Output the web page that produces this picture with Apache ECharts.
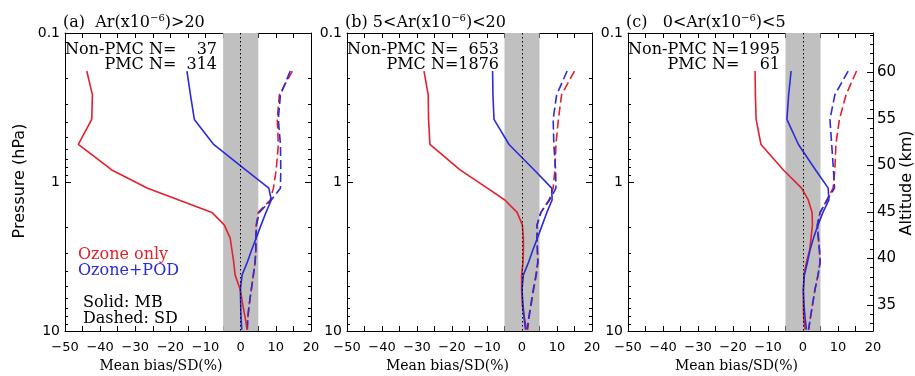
<!DOCTYPE html>
<html><head><meta charset="utf-8">
<script src="https://cdn.jsdelivr.net/npm/echarts@6/dist/echarts.min.js"></script>
<style>html,body{margin:0;padding:0;background:#fff}#c{width:915px;height:376px}</style>
</head><body><div id="c"></div>
<script>
// Pressure levels (hPa) shared by all profiles
const pressure = [0.18,0.26,0.38,0.56,0.83,1.1,1.32,1.6,1.94,2.38,2.86,3.44,4.2,5.3,6.7,8.2,9.8];

// Panel (a) Ar > 20
const mbOzoneA    = [-43.8,-42.2,-42.4,-46.2,-36.7,-26.5,-17.6,-8.2,-4.7,-3.0,-2.5,-2.0,-1.6,-0.1,0.6,1.3,1.8];
const mbOzonePodA = [-15.3,-14.3,-13.2,-7.7,1.4,8.0,8.7,7.2,5.8,4.4,3.1,1.9,0.4,-0.1,0.0,0.1,0.3];
const sdOzoneA    = [14.7,11.0,10.4,10.7,10.1,9.3,8.4,5.0,4.4,4.3,4.3,4.1,3.6,3.0,2.4,2.0,1.8];
const sdOzonePodA = [14.1,11.3,10.7,11.3,11.4,11.3,8.7,5.3,4.5,4.3,4.3,4.1,3.6,3.0,2.4,2.0,1.9];
// Panel (b) 5 < Ar < 20
const mbOzoneB    = [-28.0,-26.8,-26.7,-26.3,-17.7,-9.9,-4.9,-1.4,0.1,0.4,0.4,0.3,-0.1,-0.1,0.1,0.7,1.3];
const mbOzonePodB = [-8.4,-8.3,-8.0,-3.7,3.5,8.5,8.6,7.1,5.8,4.4,3.1,1.9,0.4,0.0,0.3,0.6,1.0];
const sdOzoneB    = [15.0,11.3,10.4,9.7,9.4,8.9,7.7,5.4,4.3,4.3,4.4,4.6,4.1,3.3,2.6,2.0,1.6];
const sdOzonePodB = [12.9,9.9,8.9,9.1,9.6,9.7,7.9,5.4,4.3,4.3,4.4,4.5,4.0,3.2,2.5,1.9,1.5];
// Panel (c) 0 < Ar < 5
const mbOzoneC    = [-13.7,-13.6,-13.4,-12.0,-5.6,-0.4,1.5,2.6,2.7,2.3,1.9,1.0,0.3,0.1,0.1,0.2,0.6];
const mbOzonePodC = [-3.4,-4.1,-4.6,-1.3,3.6,7.2,7.4,5.7,4.3,3.0,2.0,1.3,0.4,0.1,0.3,0.6,1.0];
const sdOzoneC    = [15.3,12.3,10.4,9.4,9.1,8.6,6.8,4.9,4.1,4.4,4.7,4.9,4.3,3.4,2.7,2.1,1.6];
const sdOzonePodC = [12.9,9.1,7.7,8.2,8.7,9.0,6.9,4.9,4.1,4.4,4.7,4.9,4.3,3.4,2.7,2.1,1.6];

const nonPmcCounts = ['37','653','1995'];
const pmcCounts    = ['314','1876','61'];
const panelLetters = ['(a)','(b)','(c)'];
const panelRanges  = [['', '>20'], ['5<', '<20'], ['0<', '<5']];

const pMajor = [0.1,1,10];
const pMinor = [0.2,0.3,0.4,0.5,0.6,0.7,0.8,0.9,2,3,4,5,6,7,8,9];
const altMajor = [35,40,45,50,55,60];
const altMinor = [33,34,36,37,38,39,41,42,43,44,46,47,48,49,51,52,53,54,56,57,58,59,61,62,63,64];
const altRange = [32.2, 64.2];
const biasBand = [-5, 5];

const SANS = 'DejaVu Sans', SERIF = 'DejaVu Serif';
const RED = '#e3202b', BLUE = '#2b2bd8';
const FS = '\u2007';

const panels = [
  {left:65,  width:246, mbO:mbOzoneA, mbP:mbOzonePodA, sdO:sdOzoneA, sdP:sdOzonePodA, gap:'  ', xName:161},
  {left:347, width:245, mbO:mbOzoneB, mbP:mbOzonePodB, sdO:sdOzoneB, sdP:sdOzonePodB, gap:' ', xName:447.5},
  {left:628, width:245, mbO:mbOzoneC, mbP:mbOzonePodC, sdO:sdOzoneC, sdP:sdOzonePodC, gap:'   ', xName:736.5}
];

const grids=[], xAxes=[], yAxes=[], series=[], titles=[], graphics=[];
const blk = () => ({color:'#000', width:1});
const pad4 = s => FS.repeat(4 - s.length) + s;

panels.forEach((p,i)=>{
  grids.push({left:p.left, top:33, width:p.width, height:298});
  ['bottom','top'].forEach(pos=>{
    xAxes.push({gridIndex:i, type:'value', position:pos, min:-50, max:20, interval:5, splitLine:{show:false},
      axisLine:{show:true, onZero:false, lineStyle:blk()},
      axisTick:{show:true, inside:true, length:5, lineStyle:blk()},
      axisLabel: pos==='bottom' ? {show:true, formatter:v=>(v%10===0 ? String(v).replace('-','\u2212') : ''),
        fontFamily:SANS, fontSize:13, color:'#000', margin:10} : {show:false}});
  });

  const yMain = yAxes.length;
  const sides = i < 2 ? ['left','right'] : ['left'];
  sides.forEach(side=>{
    yAxes.push({gridIndex:i, type:'log', logBase:10, min:0.1, max:10, inverse:true, position:side, splitLine:{show:false},
      axisLine:{show:true, onZero:false, lineStyle:blk()},
      axisTick:{show:true, inside:true, length:6, customValues:pMajor, lineStyle:blk()},
      axisLabel: side==='left' ? {show:true, customValues:pMajor, formatter:v=>String(+(+v).toPrecision(3)),
        fontFamily:SANS, fontSize:14, color:'#000', margin:5} : {show:false}});
    yAxes.push({gridIndex:i, type:'log', logBase:10, min:0.1, max:10, inverse:true, position:side, splitLine:{show:false},
      axisLine:{show:false, onZero:false},
      axisTick:{show:true, inside:true, length:3, customValues:pMinor, lineStyle:blk()},
      axisLabel:{show:false}});
  });
  if (i === 2) {
    yAxes.push({gridIndex:i, type:'value', min:altRange[0], max:altRange[1], position:'right', splitLine:{show:false},
      axisLine:{show:true, onZero:false, lineStyle:blk()},
      axisTick:{show:true, inside:true, length:6, customValues:altMajor, lineStyle:blk()},
      axisLabel:{show:true, customValues:altMajor, fontFamily:SANS, fontSize:15, color:'#000', margin:4}});
    yAxes.push({gridIndex:i, type:'value', min:altRange[0], max:altRange[1], position:'right', splitLine:{show:false},
      axisLine:{show:false, onZero:false},
      axisTick:{show:true, inside:true, length:3, customValues:altMinor, lineStyle:blk()},
      axisLabel:{show:false}});
  }

  const mk = (vals, color, dashed, z) => ({type:'line', xAxisIndex:2*i, yAxisIndex:yMain,
    data: vals.map((v,k)=>[v, pressure[k]]), symbol:'none', silent:true, z:z,
    lineStyle:{color:color, width:1.6, type: dashed ? [9,4] : 'solid'}});
  const s0 = mk(p.sdO, RED, true, 1);
  s0.markArea = {silent:true, itemStyle:{color:'#c0c0c0'}, data:[[{xAxis:biasBand[0]},{xAxis:biasBand[1]}]]};
  const s1 = mk(p.sdP, BLUE, true, 2);
  s1.markLine = {silent:true, symbol:['none','none'], label:{show:false},
    lineStyle:{color:'#000', type:[1.5,2.5], width:1}, data:[{xAxis:0}], animation:false};
  series.push(s0, s1, mk(p.mbO, RED, false, 3), mk(p.mbP, BLUE, false, 3));

  titles.push({left:p.left - 2, top:13, padding:0,
    text:'{t|' + panelLetters[i] + p.gap + panelRanges[i][0] + 'Ar(x10}{s|\u22126}{t|)' + panelRanges[i][1] + '}',
    textStyle:{fontWeight:'normal', rich:{t:{fontFamily:SERIF, fontSize:16, fontWeight:'normal', color:'#000', lineHeight:20},
                     s:{fontFamily:SERIF, fontSize:10, fontWeight:'normal', color:'#000', verticalAlign:'top', lineHeight:10}}}});

  graphics.push({type:'text', x:p.left+152, y:50, silent:true,
    style:{text:'Non-PMC N=' + pad4(nonPmcCounts[i]), font:'16px "DejaVu Serif"', fill:'#000',
      textAlign:'right', textVerticalAlign:'middle'}});
  graphics.push({type:'text', x:p.left+152, y:64.5, silent:true,
    style:{text:'PMC N=' + pad4(pmcCounts[i]), font:'16px "DejaVu Serif"', fill:'#000',
      textAlign:'right', textVerticalAlign:'middle'}});
  graphics.push({type:'text', x:p.xName, y:366.5, silent:true,
    style:{text:'Mean bias/SD(%)', font:'14px "DejaVu Serif"', fill:'#000',
      textAlign:'center', textVerticalAlign:'middle'}});
});

const legendTexts = [
  {text:'Ozone only', x:78, y:255, fill:RED},
  {text:'Ozone+POD', x:78, y:270.5, fill:BLUE},
  {text:'Solid: MB', x:83, y:303, fill:'#000'},
  {text:'Dashed: SD', x:83, y:319, fill:'#000'}
];
legendTexts.forEach(t=>graphics.push({type:'text', x:t.x, y:t.y, silent:true,
  style:{text:t.text, font:'16px "DejaVu Serif"', fill:t.fill, textAlign:'left', textVerticalAlign:'middle'}}));

graphics.push({type:'text', x:20, y:181, rotation:Math.PI/2, silent:true,
  style:{text:'Pressure (hPa)', font:'16px "DejaVu Sans"', fill:'#000', textAlign:'center', textVerticalAlign:'middle'}});
graphics.push({type:'text', x:907, y:183, rotation:Math.PI/2, silent:true,
  style:{text:'Altitude (km)', font:'16px "DejaVu Sans"', fill:'#000', textAlign:'center', textVerticalAlign:'middle'}});

const chart = echarts.init(document.getElementById('c'), null, {renderer:'canvas'});
chart.setOption({
  animation:false,
  backgroundColor:'#fff',
  title:titles,
  grid:grids,
  xAxis:xAxes,
  yAxis:yAxes,
  series:series,
  graphic:{elements:graphics}
});
</script>
</body></html>
